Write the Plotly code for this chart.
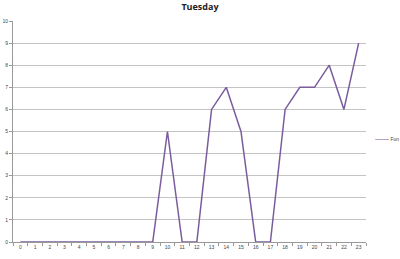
import plotly.graph_objects as go

hours = list(range(24))
fun = [0, 0, 0, 0, 0, 0, 0, 0, 0, 0, 5, 0, 0, 6, 7, 5, 0, 0, 6, 7, 7, 8, 6, 9]
tick_labels = [str(h) for h in hours]
series_name = "Fun"
line_color = "#7a5c9e"

fig = go.Figure()
fig.add_trace(go.Scatter(x=hours, y=fun, mode="lines", name=series_name,
                         line=dict(color=line_color, width=1.5)))

fig.update_layout(
    width=400, height=259,
    margin=dict(l=13, r=34, t=21, b=17, autoexpand=False),
    paper_bgcolor="white", plot_bgcolor="white",
    title=dict(text="<b>Tuesday</b>", x=0.5, xanchor="center", y=0.985, yanchor="top",
               font=dict(family="Open Sans, Arial", size=9, color="#222")),
    showlegend=False,
    font=dict(family="Arial", size=5, color="#444"),
)
fig.add_annotation(
    xref="paper", yref="paper", x=1.02, y=0.47, xanchor="left", yanchor="middle",
    showarrow=False,
    text=f"<span style='color:{line_color};font-size:7px'>——</span> {series_name}",
    font=dict(family="Arial", size=5, color="#444"),
)
fig.update_xaxes(range=[-0.5, 23.5], tickmode="array", tickvals=hours, ticktext=tick_labels,
                 showgrid=False, showline=True, linecolor="#999", linewidth=1,
                 ticks="", tickfont=dict(size=5, color="#444"),
                 minor=dict(ticks="outside", tick0=-0.5, dtick=1, ticklen=3, tickcolor="#999",
                            showgrid=False),
                 zeroline=False, fixedrange=True)
fig.update_yaxes(range=[0, 10], tickmode="array", tickvals=list(range(11)),
                 showgrid=True, gridcolor="#c4c4c4", gridwidth=1,
                 showline=True, linecolor="#999", linewidth=1,
                 ticks="outside", ticklen=3, tickcolor="#999",
                 tickfont=dict(size=5, color="#444"), zeroline=False)

fig.write_html("out.html")
